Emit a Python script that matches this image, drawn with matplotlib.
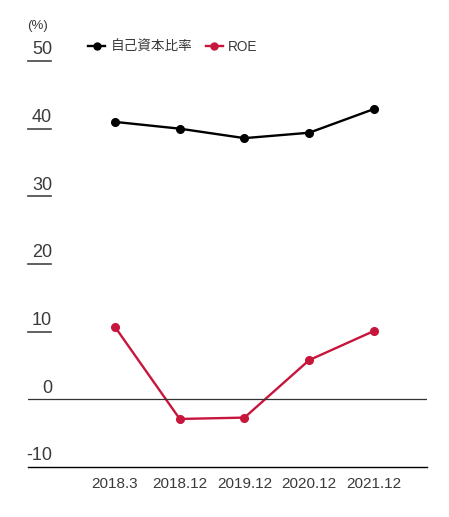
import matplotlib.pyplot as plt
import matplotlib.transforms as mtransforms
from matplotlib.lines import Line2D

plt.rcParams['font.family'] = ['Liberation Sans', 'Noto Sans CJK JP']

# Données (%)
periodes = ["2018.3", "2018.12", "2019.12", "2020.12", "2021.12"]
ratio_fonds_propres = [41.0, 40.0, 38.6, 39.4, 42.9]
roe = [10.7, -2.9, -2.7, 5.8, 10.1]
graduations = [10, 20, 30, 40, 50]

noir = "#000000"
rouge = "#c8153c"
gris = "#3a3a3a"

fig = plt.figure(figsize=(4.49, 5.17), dpi=100)
ax = fig.add_axes([28 / 449, 50 / 517, 399 / 449, 406 / 517])

x = list(range(len(periodes)))
ax.plot(x, ratio_fonds_propres, color=noir, lw=1.7, marker="o", ms=5.5, clip_on=False)
ax.plot(x, roe, color=rouge, lw=1.7, marker="o", ms=5.5, clip_on=False)

ax.set_xlim(-1.344, 4.82)
ax.set_ylim(-10, 50)

for s in ax.spines.values():
    s.set_visible(False)
ax.set_yticks([])
ax.set_xticks(x)
ax.set_xticklabels(periodes, fontsize=11, color=gris)
ax.tick_params(axis="x", length=0, pad=7)

# Ligne zéro et ligne de base
ax.axhline(0, color="#333333", lw=0.9)
ax.axhline(-10, color=noir, lw=1.0, clip_on=False)

# Petits traits de graduation avec les valeurs au-dessus
trans = mtransforms.blended_transform_factory(ax.transAxes, ax.transData)
for v in graduations:
    ax.plot([0, 0.057], [v, v], color="#444444", lw=1.2, transform=trans, clip_on=False)
for v in graduations + [0, -10]:
    ax.annotate(str(v), xy=(0.055, v), xycoords=trans, xytext=(1.5, 2),
                textcoords="offset points", ha="right", va="bottom",
                fontsize=13, color=gris, annotation_clip=False)

fig.text(27 / 449, 1 - 26 / 517, "(%)", fontsize=9.5, color=gris, va="center", ha="left")

handles = [
    Line2D([], [], color=noir, lw=1.7, marker="o", ms=5),
    Line2D([], [], color=rouge, lw=1.7, marker="o", ms=5),
]
fig.legend(handles, ["自己資本比率", "ROE"], loc="center left",
           bbox_to_anchor=(88 / 449, 1 - 47 / 517), ncol=2, frameon=False,
           fontsize=9.8, labelcolor=gris, handlelength=1.25, handletextpad=0.4,
           columnspacing=1.0, borderpad=0, borderaxespad=0)

fig.savefig("out.png", dpi=100)
